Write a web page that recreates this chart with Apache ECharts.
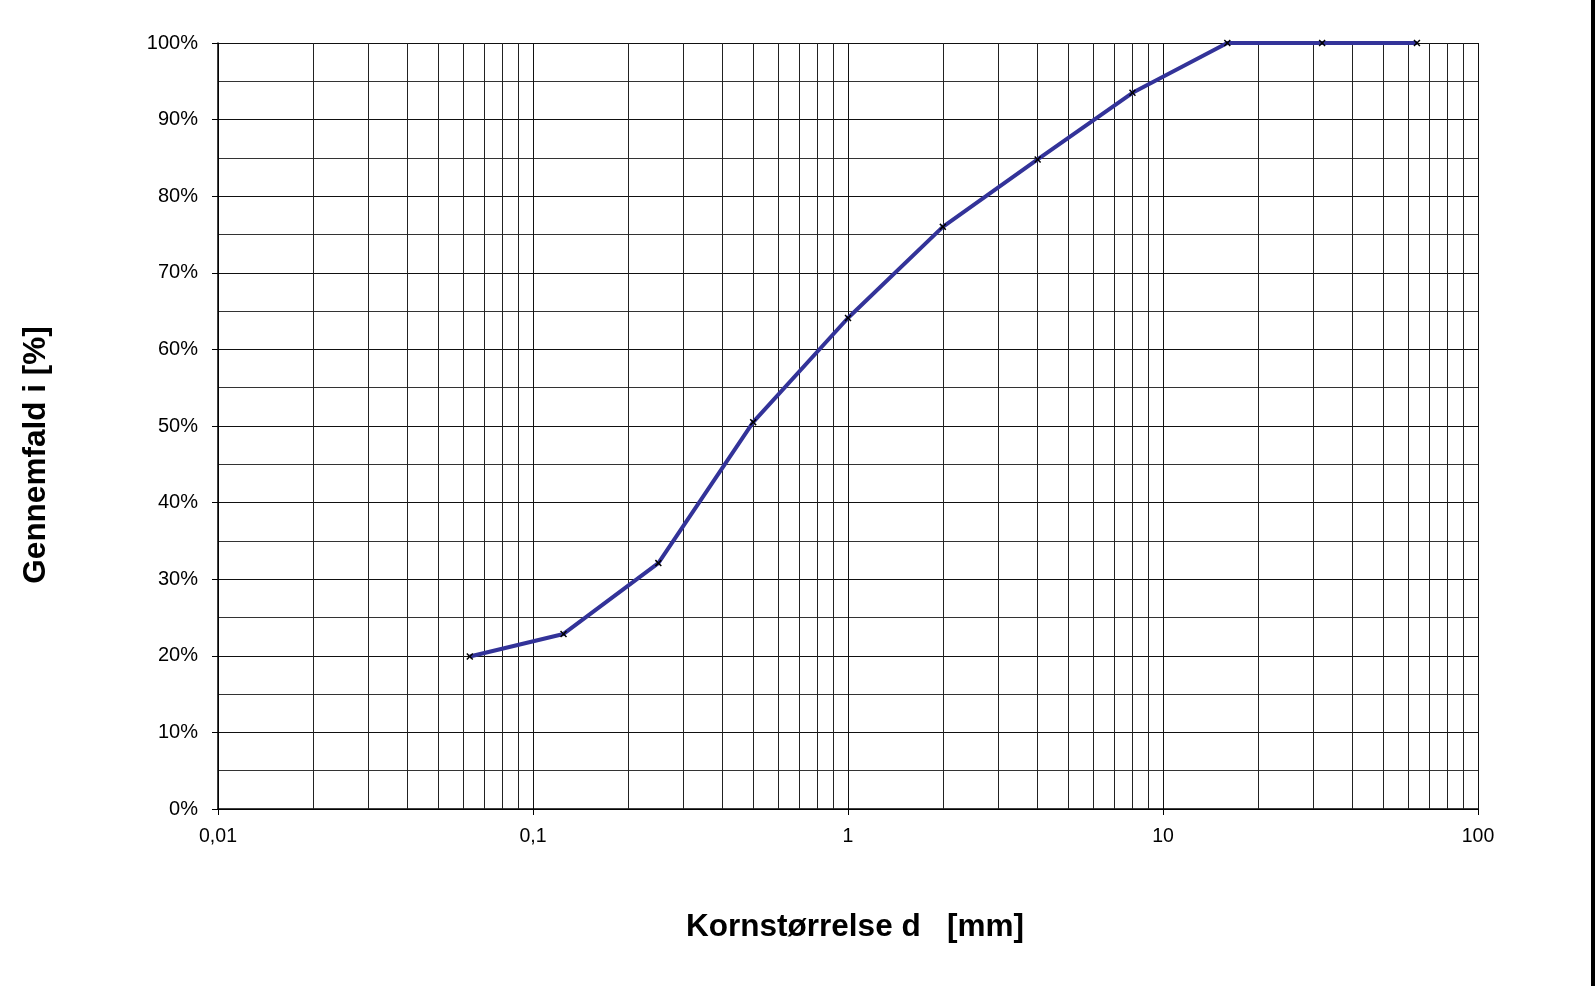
<!DOCTYPE html>
<html>
<head>
<meta charset="utf-8">
<script src="https://cdn.jsdelivr.net/npm/echarts@6/dist/echarts.min.js"></script>
<style>
html,body{margin:0;padding:0;background:#fff;}
#chart{width:1595px;height:986px;}
</style>
</head>
<body>
<div id="chart"></div>
<script>
// ---- data ----
const grainSizes = [0.063, 0.125, 0.25, 0.5, 1, 2, 4, 8, 16, 32, 64];
const passing    = [19.9, 22.85, 32.1, 50.5, 64.1, 76.0, 84.8, 93.5, 100, 100, 100];
const xTickValues = [0.01, 0.1, 1, 10, 100];
const xTickLabels = ['0,01', '0,1', '1', '10', '100'];
const xMinorLines = [0.02,0.03,0.04,0.05,0.06,0.07,0.08,0.09,
                     0.2,0.3,0.4,0.5,0.6,0.7,0.8,0.9,
                     2,3,4,5,6,7,8,9,
                     20,30,40,50,60,70,80,90];
const xTitle = 'Kornstørrelse d   [mm]';
const yTitle = 'Gennemfald i [%]';

const FONT = "'Liberation Sans', Arial, sans-serif";
const chart = echarts.init(document.getElementById('chart'));

const option = {
  backgroundColor: '#ffffff',
  animation: false,
  grid: { left: 218, right: 117, top: 43, bottom: 177 },
  xAxis: {
    type: 'log',
    logBase: 10,
    min: 0.01,
    max: 100,
    name: xTitle,
    nameLocation: 'middle',
    nameGap: 102,
    nameTextStyle: { fontFamily: FONT, fontWeight: 'bold', fontSize: 31.5, color: '#000', padding: [0, 0, 0, 14] },
    axisLine: { show: true, lineStyle: { color: '#000', width: 1.5 } },
    axisTick: { show: true, length: 6, lineStyle: { color: '#000', width: 1 } },
    axisLabel: {
      fontFamily: FONT, fontSize: 19.5, color: '#000', margin: 18,
      formatter: function (v) {
        const i = Math.round(Math.log10(v)) + 2;
        return xTickLabels[i] !== undefined ? xTickLabels[i] : '';
      }
    },
    splitLine: { show: true, lineStyle: { color: '#111', width: 1 } },
    minorTick: { show: false },
    minorSplitLine: { show: false }
  },
  yAxis: {
    type: 'value',
    min: 0,
    max: 100,
    interval: 10,
    name: yTitle,
    nameLocation: 'middle',
    nameGap: 166,
    nameTextStyle: { fontFamily: FONT, fontWeight: 'bold', fontSize: 31.5, color: '#000', padding: [0, 58, 0, 0] },
    axisLine: { show: true, lineStyle: { color: '#000', width: 1.5 } },
    axisTick: { show: true, length: 6, lineStyle: { color: '#000', width: 1 } },
    axisLabel: { fontFamily: FONT, fontSize: 20, color: '#000', margin: 20, formatter: '{value}%' },
    splitLine: { show: true, lineStyle: { color: '#111', width: 1 } },
    minorTick: { show: false, splitNumber: 2 },
    minorSplitLine: { show: true, lineStyle: { color: '#333', width: 1 } }
  },
  series: [
    {
      type: 'line',
      data: grainSizes.map((x, i) => [x, passing[i]]),
      lineStyle: { color: '#333399', width: 4 },
      itemStyle: { color: '#000' },
      symbol: 'path://M0,1.5L1.5,0L5,3.5L8.5,0L10,1.5L6.5,5L10,8.5L8.5,10L5,6.5L1.5,10L0,8.5L3.5,5Z',
      symbolSize: 7,
      showSymbol: true,
      z: 5,
      markLine: {
        silent: true,
        symbol: ['none', 'none'],
        label: { show: false },
        lineStyle: { color: '#222', width: 1, type: 'solid' },
        data: xMinorLines.map(v => ({ xAxis: v })),
        z: 1
      }
    }
  ],
  graphic: [
    { type: 'rect', left: 1591, top: 0, shape: { width: 4, height: 986 }, style: { fill: '#000' } }
  ]
};
chart.setOption(option);
</script>
</body>
</html>
